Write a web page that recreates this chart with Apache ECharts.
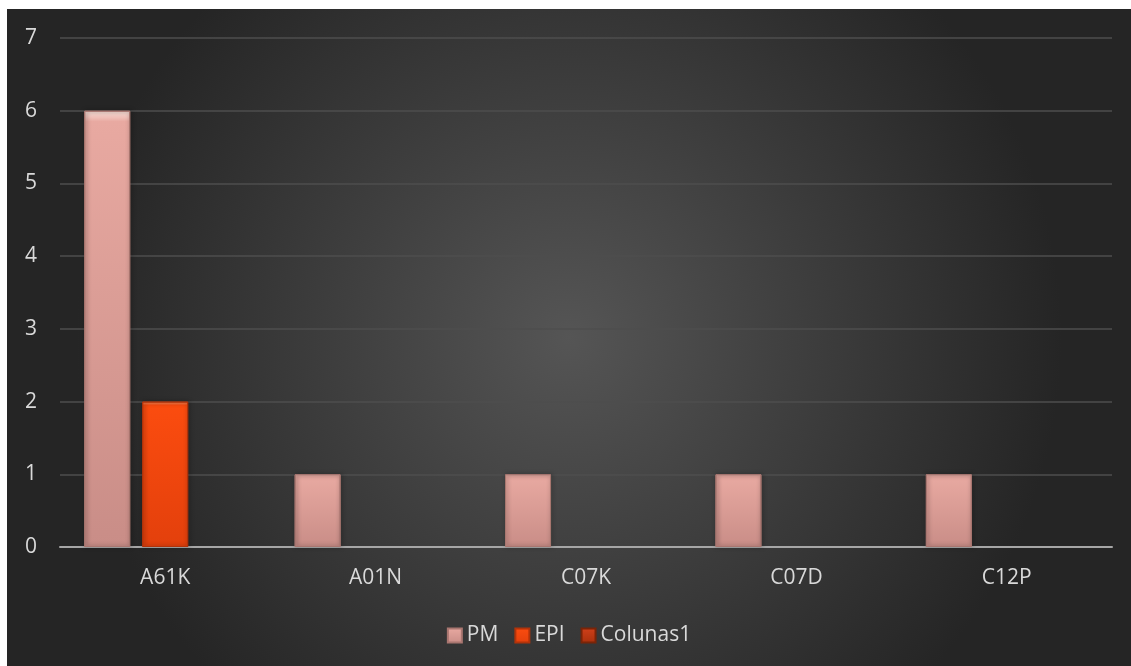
<!DOCTYPE html>
<html><head><meta charset="utf-8">
<script src="https://cdn.jsdelivr.net/npm/echarts@6/dist/echarts.min.js"></script>
<style>
html,body{margin:0;padding:0;background:#fff;}
#c{position:absolute;left:7px;top:9px;width:1124px;height:657px;}
</style></head>
<body><div id="c"></div>
<script>
const categories = ['A61K','A01N','C07K','C07D','C12P'];
const pm = [6,1,1,1,1];
const epi = [2,0,0,0,0];
const colunas1 = [0,0,0,0,0];
const yTicks = {min:0,max:7,interval:1};

// zero values draw no bar (as in the original)
const noZero = arr => arr.map(v => v === 0 ? '-' : v);

const chart = echarts.init(document.getElementById('c'));
function grad(top, mid, bot){
  return new echarts.graphic.LinearGradient(0,0,0,1,[
    {offset:0,color:top},{offset:0.025,color:mid},{offset:1,color:bot}]);
}
const font = '"Open Sans", "Noto Sans", sans-serif';
chart.setOption({
  backgroundColor: new echarts.graphic.RadialGradient(0.5,0.5,0.75,[
    {offset:0,color:'#555555'},{offset:1,color:'#252525'}]),
  textStyle:{fontFamily:font},
  grid:{left:53,right:19,top:29,bottom:119},
  legend:{
    top:611, left:'center', itemWidth:14, itemHeight:14, itemGap:16,
    icon:'rect',
    textStyle:{color:'#d9d9d9',fontSize:21,fontFamily:font},
    data:['PM','EPI','Colunas1']
  },
  xAxis:{
    type:'category', data:categories,
    axisLine:{lineStyle:{color:'#a6a6a6',width:2}},
    axisTick:{show:false},
    axisLabel:{color:'#d9d9d9',fontSize:21,margin:21,fontFamily:font}
  },
  yAxis:{
    type:'value', min:yTicks.min, max:yTicks.max, interval:yTicks.interval,
    axisLine:{show:false}, axisTick:{show:false},
    splitLine:{lineStyle:{color:'#4e4e4e',width:1.5}},
    axisLabel:{color:'#d9d9d9',fontSize:21,margin:23,fontFamily:font}
  },
  series:[
    {name:'PM',type:'bar',data:noZero(pm),barWidth:46,barGap:'26%',barCategoryGap:'23%',
     itemStyle:{color:grad('#fbe3dc','#e8a9a1','#c98d87'),borderColor:'#a97670',borderWidth:1,
       shadowColor:'rgba(0,0,0,0.5)',shadowBlur:4,shadowOffsetX:1}},
    {name:'EPI',type:'bar',data:noZero(epi),barWidth:46,
     itemStyle:{color:grad('#ff9a6a','#fb4c0f','#e3400c'),borderColor:'#b2330a',borderWidth:1,
       shadowColor:'rgba(0,0,0,0.5)',shadowBlur:4,shadowOffsetX:1}},
    {name:'Colunas1',type:'bar',data:noZero(colunas1),barWidth:46,
     itemStyle:{color:grad('#f06a3a','#d0401a','#a8300c'),borderColor:'#7a2408',borderWidth:1}}
  ]
});
</script></body></html>
